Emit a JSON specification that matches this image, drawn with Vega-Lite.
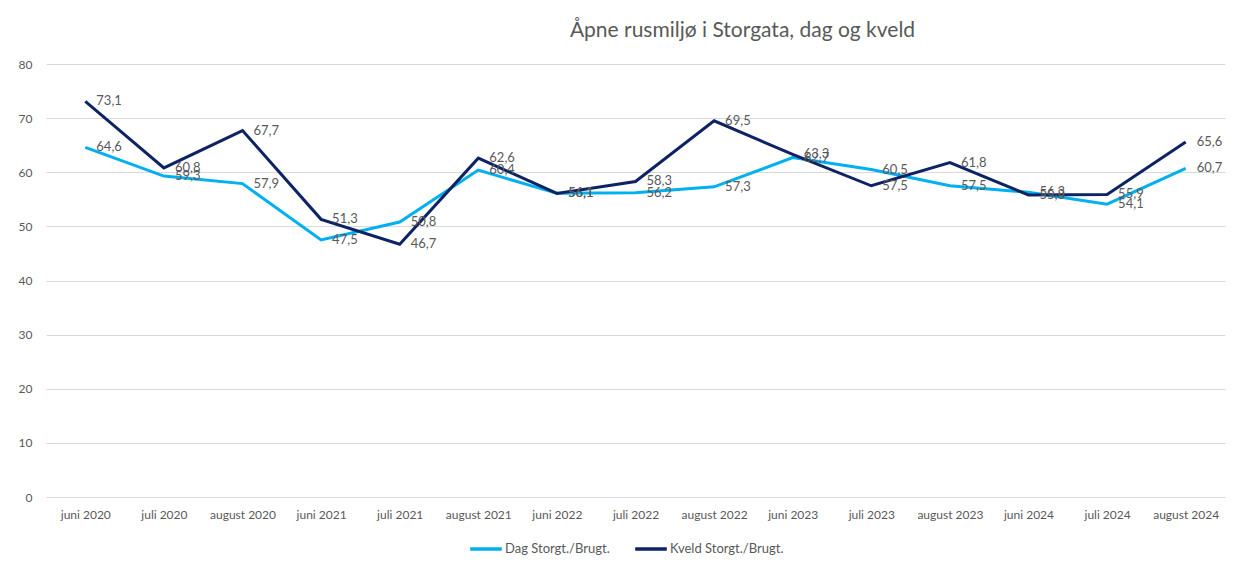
{
  "$schema": "https://vega.github.io/schema/vega-lite/v6.json",
  "width": 1179,
  "height": 433,
  "autosize": {"type": "none"},
  "padding": {"left": 46, "top": 64, "right": 12, "bottom": 71},
  "background": "white",
  "title": {
    "text": "Åpne rusmiljø i Storgata, dag og kveld",
    "font": "Lato",
    "fontSize": 21,
    "fontWeight": "normal",
    "color": "#595959",
    "anchor": "middle",
    "dx": 107,
    "offset": 17
  },
  "config": {
    "view": {"stroke": null},
    "font": "Lato",
    "locale": {
      "number": {
        "decimal": ",",
        "thousands": " ",
        "grouping": [3],
        "currency": ["", " kr"]
      }
    }
  },
  "data": {
    "values": [
      {"maaned": "juni 2020", "serie": "Dag Storgt./Brugt.", "verdi": 64.6},
      {"maaned": "juli 2020", "serie": "Dag Storgt./Brugt.", "verdi": 59.3},
      {"maaned": "august 2020", "serie": "Dag Storgt./Brugt.", "verdi": 57.9},
      {"maaned": "juni 2021", "serie": "Dag Storgt./Brugt.", "verdi": 47.5},
      {"maaned": "juli 2021", "serie": "Dag Storgt./Brugt.", "verdi": 50.8},
      {"maaned": "august 2021", "serie": "Dag Storgt./Brugt.", "verdi": 60.4},
      {"maaned": "juni 2022", "serie": "Dag Storgt./Brugt.", "verdi": 56.1},
      {"maaned": "juli 2022", "serie": "Dag Storgt./Brugt.", "verdi": 56.2},
      {"maaned": "august 2022", "serie": "Dag Storgt./Brugt.", "verdi": 57.3},
      {"maaned": "juni 2023", "serie": "Dag Storgt./Brugt.", "verdi": 62.7},
      {"maaned": "juli 2023", "serie": "Dag Storgt./Brugt.", "verdi": 60.5},
      {"maaned": "august 2023", "serie": "Dag Storgt./Brugt.", "verdi": 57.5},
      {"maaned": "juni 2024", "serie": "Dag Storgt./Brugt.", "verdi": 56.3},
      {"maaned": "juli 2024", "serie": "Dag Storgt./Brugt.", "verdi": 54.1},
      {"maaned": "august 2024", "serie": "Dag Storgt./Brugt.", "verdi": 60.7},
      {"maaned": "juni 2020", "serie": "Kveld Storgt./Brugt.", "verdi": 73.1},
      {"maaned": "juli 2020", "serie": "Kveld Storgt./Brugt.", "verdi": 60.8},
      {"maaned": "august 2020", "serie": "Kveld Storgt./Brugt.", "verdi": 67.7},
      {"maaned": "juni 2021", "serie": "Kveld Storgt./Brugt.", "verdi": 51.3},
      {"maaned": "juli 2021", "serie": "Kveld Storgt./Brugt.", "verdi": 46.7},
      {"maaned": "august 2021", "serie": "Kveld Storgt./Brugt.", "verdi": 62.6},
      {"maaned": "juni 2022", "serie": "Kveld Storgt./Brugt.", "verdi": 56.1},
      {"maaned": "juli 2022", "serie": "Kveld Storgt./Brugt.", "verdi": 58.3},
      {"maaned": "august 2022", "serie": "Kveld Storgt./Brugt.", "verdi": 69.5},
      {"maaned": "juni 2023", "serie": "Kveld Storgt./Brugt.", "verdi": 63.3},
      {"maaned": "juli 2023", "serie": "Kveld Storgt./Brugt.", "verdi": 57.5},
      {"maaned": "august 2023", "serie": "Kveld Storgt./Brugt.", "verdi": 61.8},
      {"maaned": "juni 2024", "serie": "Kveld Storgt./Brugt.", "verdi": 55.8},
      {"maaned": "juli 2024", "serie": "Kveld Storgt./Brugt.", "verdi": 55.9},
      {"maaned": "august 2024", "serie": "Kveld Storgt./Brugt.", "verdi": 65.6}
    ]
  },
  "encoding": {
    "x": {
      "field": "maaned",
      "type": "ordinal",
      "sort": null,
      "scale": {"type": "point", "padding": 0.5},
      "axis": {
        "title": null,
        "labelAngle": 0,
        "domain": false,
        "ticks": false,
        "labelFont": "Lato",
        "labelFontSize": 12,
        "labelColor": "#595959",
        "labelPadding": 12
      }
    },
    "y": {
      "field": "verdi",
      "type": "quantitative",
      "scale": {"domain": [0, 80]},
      "axis": {
        "title": null,
        "values": [0, 10, 20, 30, 40, 50, 60, 70, 80],
        "domain": false,
        "ticks": false,
        "gridColor": "#d9d9d9",
        "labelFont": "Lato",
        "labelFontSize": 12,
        "labelColor": "#595959",
        "labelPadding": 14
      }
    }
  },
  "layer": [
    {
      "mark": {"type": "line", "strokeWidth": 3, "strokeJoin": "miter"},
      "encoding": {
        "color": {
          "field": "serie",
          "type": "nominal",
          "scale": {
            "domain": ["Dag Storgt./Brugt.", "Kveld Storgt./Brugt."],
            "range": ["#00B0F0", "#0D2363"]
          },
          "legend": {
            "title": null,
            "orient": "none",
            "direction": "horizontal",
            "legendX": 422,
            "legendY": 467,
            "symbolType": "stroke",
            "symbolStrokeWidth": 3.5,
            "symbolSize": 1000,
            "labelFont": "Lato",
            "labelFontSize": 13,
            "labelColor": "#595959",
            "labelOffset": 1,
            "columnPadding": 18
          }
        }
      }
    },
    {
      "mark": {
        "type": "text",
        "align": "left",
        "baseline": "middle",
        "dx": 11,
        "font": "Lato",
        "fontSize": 13,
        "color": "#595959"
      },
      "encoding": {
        "text": {"field": "verdi", "type": "quantitative", "format": ".1f"}
      }
    }
  ]
}
